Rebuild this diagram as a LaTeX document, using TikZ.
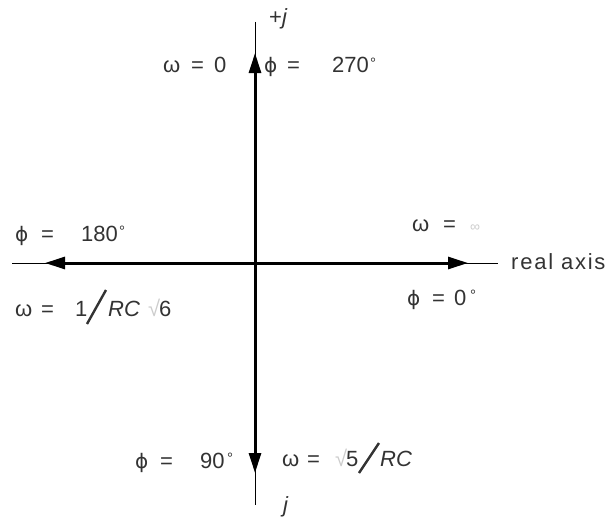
\documentclass[tikz,border=0pt]{standalone}
\usepackage{fontspec}
\setmainfont{Liberation Sans}
\newfontfamily\phifont{DejaVu Sans}
\usetikzlibrary{arrows.meta}
\definecolor{txt}{gray}{0.2}
\definecolor{faint}{gray}{0.8}
\newcommand\pc[2]{\makebox[#1][l]{#2}}
\newcommand\ph{{\phifont\fontsize{20}{24}\selectfont ϕ}}
\newcommand\dg{\hspace{3pt}{\fontsize{15}{15}\selectfont\raisebox{5pt}{°}}}
\tikzset{
  lbl/.style={anchor=base west, inner sep=0pt, text=txt, font=\fontsize{22}{26}\selectfont},
  thinaxis/.style={line width=1pt},
  thickaxis/.style={line width=3pt, -{Triangle[length=20pt,width=12pt]}},
  slashline/.style={line width=2.4pt, txt}
}
\begin{document}
\begin{tikzpicture}[x=1pt,y=-1pt]
\useasboundingbox (0,0) rectangle (607,519);
% axes
\coordinate (o) at (255,263);
\coordinate (top) at (255,22);
\coordinate (bot) at (255,505);
\coordinate (lft) at (12,263);
\coordinate (rgt) at (498,263);
\coordinate (tipU) at (255,53);
\coordinate (tipD) at (255,473);
\coordinate (tipL) at (45,263);
\coordinate (tipR) at (468,263);
\draw[thinaxis] (top) -- (bot);
\draw[thinaxis] (lft) -- (rgt);
\draw[thickaxis] (o) -- (tipU);
\draw[thickaxis] (o) -- (tipD);
\draw[thickaxis] (o) -- (tipL);
\draw[thickaxis] (o) -- (tipR);
% labels
\node[lbl] (pj) at (269,25) {+\textit{j}};
\node[lbl] (w0) at (163,72) {\pc{28pt}{ω}\pc{23pt}{=}0};
\node[lbl] (p270) at (264,73) {\pc{23pt}{\ph}\pc{45pt}{=}\pc{35pt}{270}\dg};
\node[lbl] (p180) at (15,241) {\pc{26pt}{\ph}\pc{40pt}{=}\pc{35pt}{180}\dg};
\node[lbl] (winf) at (412,231) {\pc{31pt}{ω}\pc{27pt}{=}{\color{faint}\fontsize{14}{14}\selectfont ∞}};
\node[lbl] (real) at (511,269) {\addfontfeature{LetterSpace=8}real axis};
\node[lbl] (p0) at (407,305) {\pc{25pt}{\ph}\pc{22pt}{=}\pc{13pt}{0}\dg};
\node[lbl] (w1) at (15,316) {\pc{26pt}{ω}\pc{34pt}{=}\pc{33pt}{1}\pc{40pt}{\textit{RC}}\pc{11pt}{\color{faint}√}6};
\draw[slashline] (87,324) -- (106,290);
\node[lbl] (p90) at (135,468) {\pc{25pt}{\ph}\pc{40pt}{=}\pc{24pt}{90}\dg};
\node[lbl] (w5) at (282,466) {\pc{25pt}{ω}\pc{28pt}{=}\pc{11pt}{\color{faint}√}\pc{34pt}{5}\textit{RC}};
\draw[slashline] (359,473) -- (379,443);
\node[lbl] (mj) at (283,512) {\textit{j}};
\end{tikzpicture}
\end{document}
